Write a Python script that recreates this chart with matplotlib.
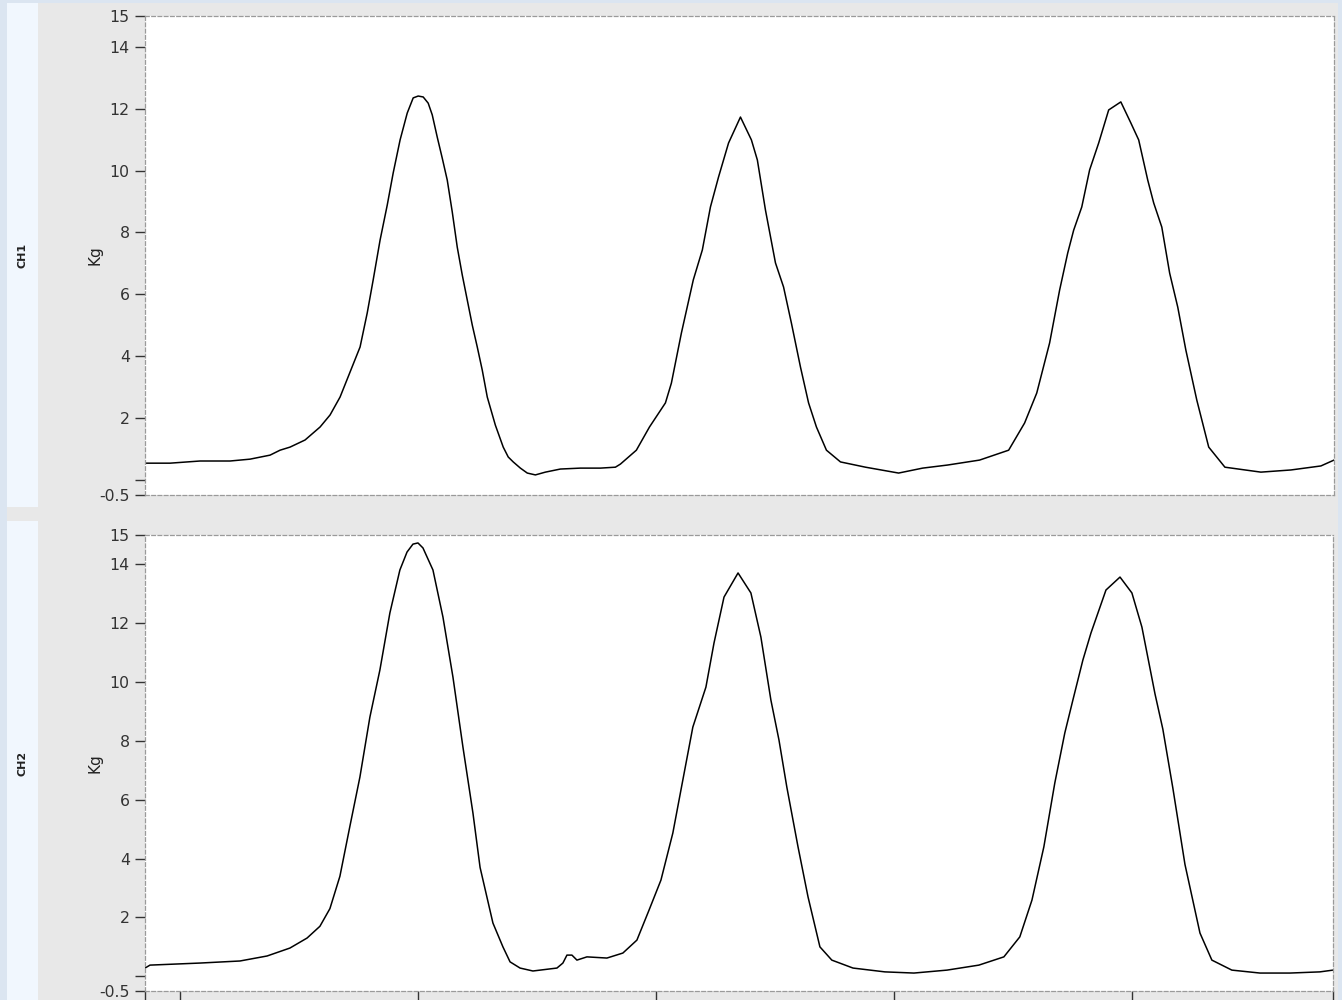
#!/usr/bin/env python
# two-channel force trace (CH1 / CH2), Kg over time

import matplotlib
matplotlib.use("Agg")
import matplotlib.pyplot as plt
from matplotlib.patches import Rectangle

# ---- DATA

# time axis [s]
ch1_t = [0.853, 0.958, 1.084, 1.210, 1.294, 1.378, 1.420, 1.462, 1.525, 1.588,
         1.630, 1.672, 1.714, 1.756, 1.786, 1.811, 1.840, 1.870, 1.895, 1.924,
         1.954, 1.979, 2.000, 2.021, 2.042, 2.059, 2.080, 2.101, 2.122, 2.143,
         2.164, 2.185, 2.206, 2.227, 2.248, 2.269, 2.290, 2.324, 2.357, 2.378,
         2.399, 2.429, 2.458, 2.492, 2.534, 2.597, 2.681, 2.765, 2.828, 2.849,
         2.916, 2.971, 3.038, 3.063, 3.105, 3.155, 3.193, 3.227, 3.261, 3.303,
         3.353, 3.399, 3.424, 3.458, 3.500, 3.534, 3.567, 3.605, 3.639, 3.672,
         3.714, 3.773, 3.878, 4.017, 4.118, 4.223, 4.357, 4.479, 4.546, 4.597,
         4.651, 4.693, 4.727, 4.752, 4.786, 4.819, 4.857, 4.899, 4.950, 4.992,
         5.025, 5.063, 5.088, 5.122, 5.155, 5.189, 5.223, 5.269, 5.319, 5.387,
         5.538, 5.664, 5.790, 5.845]
ch1_kg = [0.53, 0.53, 0.60, 0.60, 0.66, 0.79, 0.95, 1.05, 1.28, 1.70,
          2.09, 2.67, 3.48, 4.29, 5.39, 6.46, 7.75, 8.88, 9.92, 10.99,
          11.86, 12.35, 12.41, 12.38, 12.18, 11.80, 11.08, 10.40, 9.69, 8.66,
          7.52, 6.62, 5.81, 5.00, 4.29, 3.54, 2.67, 1.76, 1.05, 0.73,
          0.57, 0.37, 0.21, 0.15, 0.24, 0.34, 0.37, 0.37, 0.40, 0.50,
          0.95, 1.70, 2.48, 3.12, 4.74, 6.46, 7.43, 8.82, 9.79, 10.89,
          11.73, 10.99, 10.34, 8.72, 7.01, 6.23, 5.06, 3.64, 2.48, 1.70,
          0.95, 0.57, 0.40, 0.21, 0.37, 0.47, 0.63, 0.95, 1.83, 2.80,
          4.42, 6.13, 7.33, 8.07, 8.82, 10.02, 10.89, 11.96, 12.22, 11.54,
          10.99, 9.69, 8.95, 8.17, 6.68, 5.58, 4.19, 2.57, 1.05, 0.40,
          0.24, 0.31, 0.44, 0.63]

ch2_t = [0.853, 0.874, 1.084, 1.252, 1.366, 1.462, 1.534, 1.588, 1.630, 1.672,
         1.714, 1.756, 1.798, 1.840, 1.882, 1.924, 1.954, 1.979, 2.000, 2.021,
         2.063, 2.105, 2.147, 2.189, 2.231, 2.261, 2.315, 2.357, 2.387, 2.429,
         2.483, 2.584, 2.609, 2.626, 2.647, 2.668, 2.710, 2.794, 2.861, 2.920,
         2.971, 3.021, 3.071, 3.105, 3.155, 3.210, 3.244, 3.286, 3.345, 3.399,
         3.441, 3.483, 3.517, 3.550, 3.597, 3.639, 3.689, 3.739, 3.828, 3.962,
         4.084, 4.223, 4.357, 4.462, 4.529, 4.580, 4.630, 4.676, 4.718, 4.752,
         4.794, 4.828, 4.891, 4.950, 5.000, 5.042, 5.097, 5.130, 5.172, 5.223,
         5.286, 5.336, 5.420, 5.538, 5.664, 5.790, 5.845]
ch2_kg = [0.28, 0.38, 0.45, 0.52, 0.69, 0.96, 1.30, 1.70, 2.30, 3.40,
          5.10, 6.77, 8.81, 10.41, 12.35, 13.81, 14.42, 14.69, 14.73, 14.56,
          13.81, 12.21, 10.17, 7.79, 5.55, 3.70, 1.81, 1.00, 0.49, 0.28,
          0.18, 0.28, 0.45, 0.72, 0.72, 0.55, 0.66, 0.62, 0.79, 1.23,
          2.25, 3.27, 4.87, 6.33, 8.47, 9.83, 11.33, 12.89, 13.71, 13.03,
          11.53, 9.39, 8.03, 6.43, 4.40, 2.70, 1.00, 0.55, 0.28, 0.15,
          0.11, 0.21, 0.38, 0.66, 1.34, 2.59, 4.40, 6.57, 8.27, 9.39,
          10.75, 11.67, 13.13, 13.57, 13.03, 11.87, 9.60, 8.40, 6.40, 3.80,
          1.47, 0.55, 0.21, 0.11, 0.11, 0.15, 0.21]

channels = ["CH1", "CH2"]
y_ticks = [-0.5, 0, 2, 4, 6, 8, 10, 12, 14, 15]
y_labels = ["-0.5", "", "2", "4", "6", "8", "10", "12", "14", "15"]
x_ticks = [0.853, 1, 2, 3, 4, 5, 5.845]

# ---- FIGURE

W, H = 1342, 1000
fig = plt.figure(figsize=(W / 100, H / 100), dpi=100, facecolor="#dbe5f1")


def rect(x0, y0, x1, y1, color):
    """ Adds a background block given in pixel coords (top-left origin). """
    fig.add_artist(Rectangle((x0 / W, 1 - y1 / H), (x1 - x0) / W, (y1 - y0) / H,
                             transform=fig.transFigure, facecolor=color,
                             edgecolor="none", zorder=-5))


# panel backgrounds
rect(7, 3, 1338, 1000, "#e8e8e8")
rect(7, 3, 38, 507, "#f1f7fe")
rect(7, 521, 38, 1000, "#f1f7fe")

# axes boxes [px]: left, top, right, bottom
boxes = [(145, 16, 1334, 495), (145, 535, 1333, 991)]
series = [(ch1_t, ch1_kg), (ch2_t, ch2_kg)]

for i, (box, (t, kg)) in enumerate(zip(boxes, series)):
    l, tp, r, b = box
    ax = fig.add_axes([l / W, 1 - b / H, (r - l) / W, (b - tp) / H])
    ax.set_facecolor("white")
    ax.plot(t, kg, color="black", lw=1.1)

    ax.set_xlim(x_ticks[0], x_ticks[-1])
    ax.set_ylim(-0.5, 15)
    ax.set_yticks(y_ticks)
    ax.set_yticklabels(y_labels)
    ax.tick_params(axis="y", length=7, width=1, color="#333333",
                   labelsize=11.3, labelcolor="#333333", pad=4)

    if i == 1:
        ax.set_xticks(x_ticks)
        ax.set_xticklabels([])
        ax.tick_params(axis="x", length=10, width=1, color="#333333")
    else:
        ax.set_xticks([])

    for s in ax.spines.values():
        s.set_linestyle((0, (3, 2)))
        s.set_color("#9a9a9a")
        s.set_linewidth(0.9)

    # channel and unit labels
    yc = 1 - (tp + b) / 2 / H
    fig.text(22 / W, yc, channels[i], rotation=90, ha="center", va="center",
             fontsize=8, fontweight="bold", color="#222222")
    fig.text(95 / W, yc, "Kg", rotation=90, ha="center", va="center",
             fontsize=11, color="#222222")

fig.savefig("out.png", dpi=100, facecolor=fig.get_facecolor())
